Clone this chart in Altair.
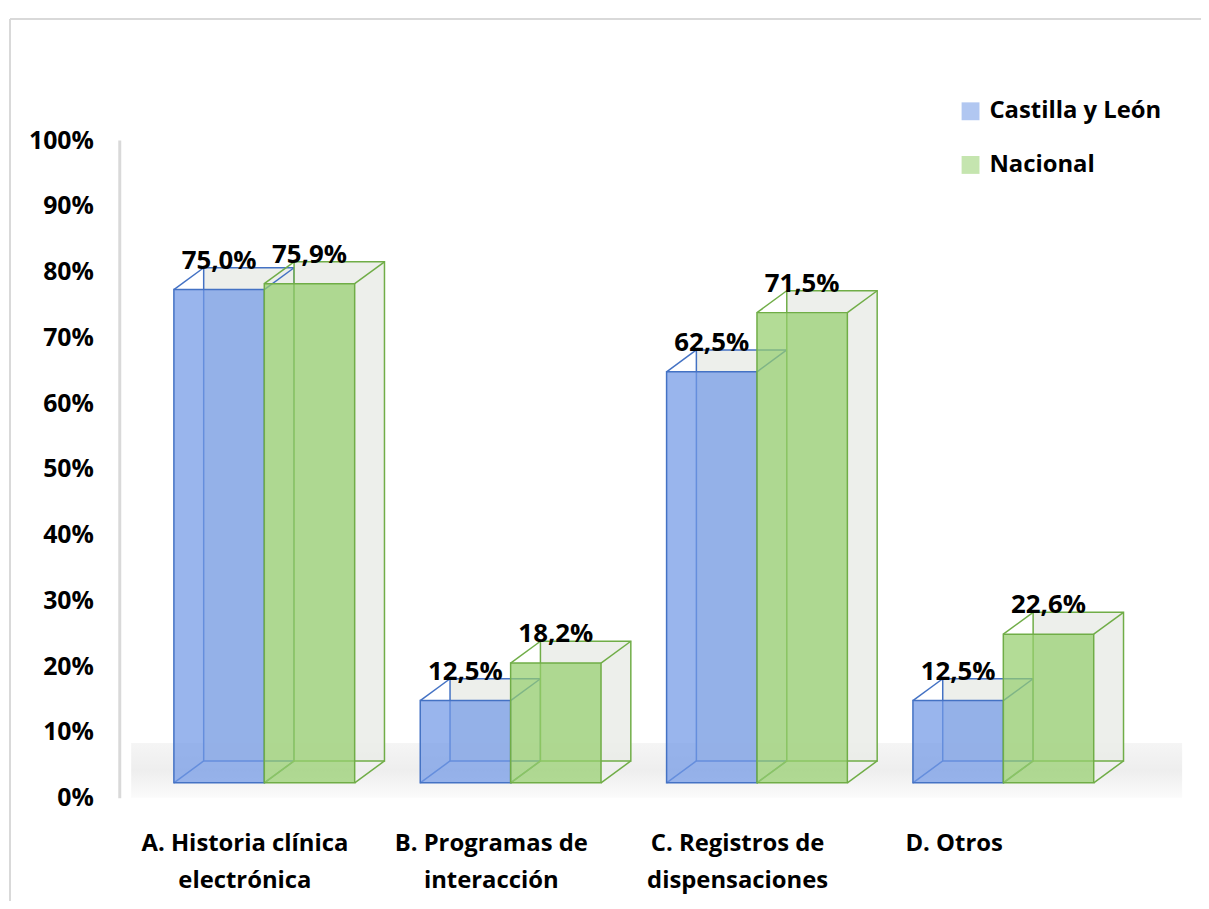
import altair as alt
import pandas as pd

# ---- data ----
cat_labels = [
    ["A. Historia clínica", "electrónica"],
    ["B. Programas de", "interacción"],
    ["C. Registros de", "dispensaciones"],
    ["D. Otros"],
]
series = ["Castilla y León", "Nacional"]
castilla = [75.0, 12.5, 62.5, 12.5]
nacional = [75.9, 18.2, 71.5, 22.6]
y_ticks = [0, 0.1, 0.2, 0.3, 0.4, 0.5, 0.6, 0.7, 0.8, 0.9, 1.0]

fills = {"Castilla y León": "#7199e6", "Nacional": "#95cf6e"}
strokes = {"Castilla y León": "#4472c4", "Nacional": "#70ad47"}

rows = []
for i in range(len(cat_labels)):
    for j, (s, vals) in enumerate(zip(series, [castilla, nacional])):
        v = vals[i]
        rows.append({"i": i, "j": j, "series": s, "v": v / 100.0,
                     "label": f"{v:.1f}".replace(".", ",") + "%"})
df = pd.DataFrame(rows)

W, H = 1070, 662
STEP = 248.0
BW = 91.0 / STEP
DX, DY = 30, -22
BASE = -15  # front face lift in px

x_scale = alt.Scale(domain=[-146.0 / STEP, (W - 146.0) / STEP], nice=False, zero=False)
y_scale = alt.Scale(domain=[0, 1], nice=False)

base = alt.Chart(df).transform_calculate(
    x0="datum.i - %f + datum.j * %f" % (BW, BW),
    x1="datum.i + datum.j * %f" % BW,
    xc="datum.i - %f + datum.j * %f + %f" % (BW, BW, BW / 2),
    zero="0",
)

FONT = "Open Sans"

label_expr = "".join(
    "datum.value == %d ? %s : " % (k, str(lines).replace("'", '"')) for k, lines in enumerate(cat_labels)
) + "''"

x_axis = alt.Axis(
    values=[0, 1, 2, 3], labelExpr=label_expr,
    title=None, domain=False, ticks=False, grid=False,
    labelFont=FONT, labelFontSize=24, labelFontWeight="bold", labelColor="#000000",
    labelPadding=34, labelLineHeight=37, labelLimit=500, labelOverlap=False,
    labelOffset={"condition": {"test": "datum.value == 3", "value": -50}, "value": -20},
)
y_axis = alt.Axis(values=y_ticks, format=".0%", title=None, grid=False, ticks=False,
                  domainColor="#d9d9d9", domainWidth=3, labelOverlap=False,
                  labelFont=FONT, labelFontSize=25, labelFontWeight="bold",
                  labelColor="#000000", labelPadding=26)


def X(f):
    return alt.X(f"{f}:Q", scale=x_scale, axis=x_axis)


def Y(f):
    return alt.Y(f"{f}:Q", scale=y_scale, axis=y_axis)


layers = []

# floor shading
floor = alt.Chart(pd.DataFrame({"a": [0]})).mark_rect(
    fill=alt.LinearGradient(
        gradient="linear", x1=0, x2=0, y1=0, y2=1,
        stops=[alt.GradientStop(color="#f5f5f5", offset=0),
               alt.GradientStop(color="#eeeeee", offset=0.5),
               alt.GradientStop(color="#fbfbfb", offset=1)],
    )
).encode(x=alt.value(12), x2=alt.value(1070), y=alt.value(607), y2=alt.value(662))
layers.append(floor)

# frame lines
frame_top = alt.Chart(pd.DataFrame({"a": [0]})).mark_rule(color="#d9d9d9", strokeWidth=2).encode(
    x=alt.value(-110), x2=alt.value(1090), y=alt.value(-122), y2=alt.value(-122))
frame_left = alt.Chart(pd.DataFrame({"a": [0]})).mark_rule(color="#d9d9d9", strokeWidth=2).encode(
    x=alt.value(-110), x2=alt.value(-110), y=alt.value(-122), y2=alt.value(780))
layers += [frame_top, frame_left]

legend = alt.Legend(
    title=None, orient="none", legendX=845, legendY=-41, padding=0,
    symbolType="square", symbolSize=324, symbolOpacity=0.55,
    symbolStrokeWidth=0, labelFont=FONT, labelFontSize=24,
    labelFontWeight="bold", labelColor="#000000", labelOffset=7,
    rowPadding=30, labelLimit=400,
)
fill_scale = alt.Scale(domain=series, range=[fills[k] for k in series])

for s in series:
    b = base.transform_filter(alt.datum.series == s)
    back = b.mark_rect(
        xOffset=DX, x2Offset=DX, yOffset=BASE + DY, y2Offset=BASE + DY,
        fill="#eaece7", fillOpacity=0.85, stroke=strokes[s], strokeWidth=1.5,
    ).encode(x=X("x0"), x2="x1:Q", y=Y("v"), y2="zero:Q")
    layers.append(back)
    for xf, yf in [("x0", "v"), ("x1", "v"), ("x1", "zero"), ("x0", "zero")]:
        r = b.mark_rule(
            color=strokes[s], strokeWidth=1.5,
            xOffset=0, yOffset=BASE, x2Offset=DX, y2Offset=BASE + DY,
        ).encode(x=X(xf), x2=f"{xf}:Q", y=Y(yf), y2=f"{yf}:Q")
        layers.append(r)
    front = b.mark_rect(
        yOffset=BASE, y2Offset=BASE, fillOpacity=0.72, stroke=strokes[s], strokeWidth=1.5,
    ).encode(
        x=X("x0"), x2="x1:Q", y=Y("v"), y2="zero:Q",
        fill=alt.Fill("series:N", scale=fill_scale, legend=legend),
    )
    layers.append(front)

labels = base.mark_text(
    font=FONT, fontSize=26, fontWeight="bold", color="#000000", baseline="middle", dy=BASE - 29,
).encode(x=X("xc"), y=Y("v"), text="label:N")
layers.append(labels)

chart = alt.layer(*layers).properties(
    width=W, height=H,
    autosize=alt.AutoSizeParams(type="none"),
    padding={"left": 112, "top": 130, "right": 19, "bottom": 101},
).configure_view(stroke=None)

chart.save("out.html", embed_options={"renderer": "svg", "actions": False})
